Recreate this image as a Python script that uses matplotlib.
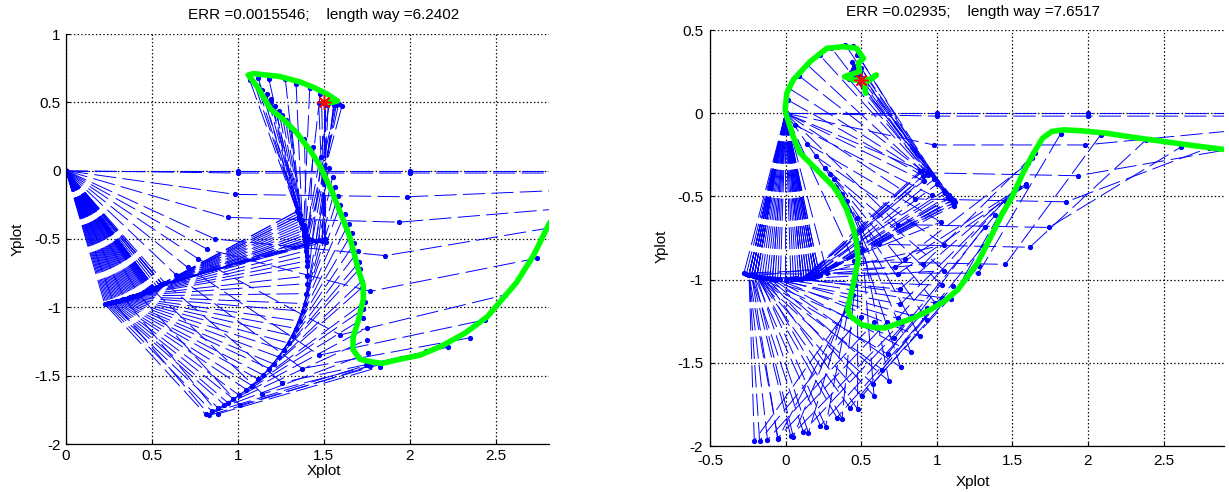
import matplotlib
matplotlib.use("Agg")
import matplotlib.pyplot as plt
from matplotlib.ticker import FuncFormatter
import numpy as np

plt.rcParams['font.family'] = ['Liberation Sans', 'DejaVu Sans']
plt.rcParams['axes.unicode_minus'] = False
plt.rcParams['lines.scale_dashes'] = False

LINK = 1.0  # every arm segment has unit length

# absolute link angles (degrees) of the 3-link arm, one entry per drawn pose
q1_left = [0, -1, -10, -20, -30, -35, -40, -45, -50, -55, -60, -65, -70, -74, -77,
           -76, -75, -74, -73, -72, -71, -70, -69, -68, -67, -66, -65, -64, -63, -62,
           -61, -60, -59, -59, -59, -60, -61, -62, -60, -58, -57, -56, -56,
           -76.5, -75.5, -74.5, -73.5, -72.5, -71.5, -70.5, -69.5, -68.5, -67.5, -66.5,
           -65.5, -64.5, -63.5, -62.5, -61.5, -60.5, -59.5, -59, -59.5, -60.5, -61.5,
           -61, -59, -57, -56, -56]
q2_left = [0, 0, -1, -2, -7, -18, -34, -40, -43, -47, -50, -54, -57, -56, -54,
           -50, -47, -43, -38, -33, -28, -22, -16, -10, -3, 5, 12, 16, 20, 24,
           27, 31, 34, 33, 32, 28, 24, 22, 21, 20, 19, 19, 19,
           -52, -48, -45, -40, -35, -30, -25, -19, -13, -6, 1,
           8, 14, 18, 22, 25, 29, 32, 34, 30, 26, 23,
           22, 20, 19, 18, 19]
q3_left = [0, 0, 3, 6, 12, 14, 17, 15, 13, 15, 18, 20, 20, 21, 21,
           30, 38, 43, 50, 56, 62, 68, 74, 78, 82, 88, 95, 97, 99, 101,
           102, 104, 106, 100, 95, 88, 82, 78, 82, 85, 88, 91, 90,
           25, 34, 41, 48, 54, 59, 65, 71, 76, 80, 85,
           91, 96, 98, 100, 101, 103, 105, 103, 92, 85, 80,
           80, 84, 89, 90, 92]

q1_right = [0, -1, -11, -21, -31, -42, -52, -63, -74, -84, -95, -102, -106, -104,
            -103, -102, -101, -101, -102, -103, -104, -104, -103, -101, -99, -97, -95,
            -93, -90, -87, -85, -84, -83, -82, -81, -80, -79, -78, -78, -77, -78, -78,
            -105, -103, -102, -101, -101, -101, -103, -104, -104, -102, -100, -98, -96,
            -94, -92, -88, -86, -84, -83, -82, -81, -80, -79, -78, -77, -78, -79]
q2_right = [0, 0, 0, -1, -1, -1, -1, -1, 0, -7, 5, 6, 2, -5,
            -15, -28, -40, -52, -64, -75, -83, -88, -80, -70, -58, -45, -32,
            -20, -8, 3, 20, 36, 40, 40, 38, 34, 30, 28, 27, 27, 26, 25,
            0, -10, -22, -34, -46, -58, -70, -79, -86, -75, -64, -52, -38,
            -26, -14, -2, 12, 30, 38, 40, 39, 36, 31, 29, 26, 27, 28]
q3_right = [0, 0, 5, 9, 19, 29, 40, 51, 57, 58, 42, 35, 30, 38,
            45, 50, 45, 47, 45, 43, 45, 52, 60, 72, 84, 95, 110,
            121, 132, 142, 152, 156, 150, 140, 130, 124, 128, 131, 127, 132, 128, 130,
            32, 42, 48, 48, 46, 46, 44, 44, 48, 66, 78, 90, 102,
            115, 127, 138, 148, 155, 153, 145, 135, 126, 125, 129, 130, 133, 129]

# end-effector path (green)
path_x_left = [2.90, 2.81, 2.72, 2.62, 2.45, 2.32, 2.19, 2.06, 1.94, 1.84, 1.78, 1.71,
               1.67, 1.67, 1.70, 1.73, 1.73, 1.70, 1.65, 1.55, 1.48, 1.42, 1.34, 1.26,
               1.19, 1.11, 1.06, 1.09, 1.24, 1.36, 1.44, 1.52, 1.58, 1.55, 1.51, 1.50]
path_y_left = [-0.22, -0.39, -0.62, -0.82, -1.07, -1.19, -1.28, -1.35, -1.38, -1.41, -1.40, -1.38,
               -1.31, -1.22, -1.10, -0.94, -0.84, -0.72, -0.48, -0.16, 0.03, 0.15, 0.28, 0.38,
               0.45, 0.62, 0.70, 0.71, 0.69, 0.65, 0.61, 0.56, 0.51, 0.50, 0.50, 0.50]

path_x_right = [3.0, 2.97, 2.92, 2.7, 2.5, 2.3, 2.12, 1.95, 1.84, 1.76, 1.70, 1.64, 1.57,
                1.50, 1.43, 1.37, 1.27, 1.14, 1.05, 0.96, 0.85, 0.754, 0.66, 0.60, 0.50,
                0.43, 0.41, 0.445, 0.48, 0.47, 0.45, 0.405, 0.36, 0.316, 0.207, 0.096,
                0.05, 0.008, -0.003, 0.008, 0.05, 0.162, 0.273, 0.38, 0.47, 0.515, 0.48,
                0.49, 0.39, 0.45, 0.56, 0.60, 0.52, 0.53]
path_y_right = [0.0, -0.12, -0.22, -0.195, -0.17, -0.145, -0.12, -0.105, -0.10, -0.11, -0.15,
                -0.24, -0.36, -0.50, -0.61, -0.72, -0.90, -1.06, -1.13, -1.18, -1.23, -1.26,
                -1.29, -1.29, -1.27, -1.22, -1.18, -1.04, -0.88, -0.78, -0.70, -0.58, -0.50,
                -0.44, -0.34, -0.24, -0.14, -0.02, 0.02, 0.12, 0.20, 0.31, 0.39, 0.40, 0.39,
                0.33, 0.30, 0.25, 0.22, 0.20, 0.20, 0.23, 0.18, 0.12]

target_left = (1.5, 0.5)
target_right = (0.5, 0.2)

title_left = "ERR =0.0015546;    length way =6.2402"
title_right = "ERR =0.02935;    length way =7.6517"

xticks_left = [0, 0.5, 1, 1.5, 2, 2.5]
yticks_left = [-2, -1.5, -1, -0.5, 0, 0.5, 1]
xticks_right = [-0.5, 0, 0.5, 1, 1.5, 2, 2.5]
yticks_right = [-2, -1.5, -1, -0.5, 0, 0.5]


def draw_panel(ax, q1, q2, q3, px, py, target, title, xlim, ylim, xticks, yticks,
               cx, title_y, xlab_y, ylab_x, ylab_y, xpad, ypad):
    # arm poses
    for a1, a2, a3 in zip(q1, q2, q3):
        ang = np.radians([a1, a2, a3])
        xs = np.concatenate([[0.0], np.cumsum(LINK * np.cos(ang))])
        ys = np.concatenate([[0.0], np.cumsum(LINK * np.sin(ang))])
        ax.plot(xs, ys, color='b', lw=0.7, ls=(0, (16, 4.5)),
                marker='.', ms=5.5, zorder=2)
    # trajectory of the end effector and the goal point
    ax.plot(px, py, color=(0, 1, 0), lw=4, solid_capstyle='round',
            solid_joinstyle='round', zorder=3)
    ax.plot(target[0], target[1], ls='none', marker=(8, 2, 0), ms=10, mew=1.1,
            color='r', zorder=4)

    ax.set_xlim(*xlim)
    ax.set_ylim(*ylim)
    ax.set_xticks(xticks)
    ax.set_yticks(yticks)
    fmt = FuncFormatter(lambda v, p: '%g' % v)
    ax.xaxis.set_major_formatter(fmt)
    ax.yaxis.set_major_formatter(fmt)
    ax.tick_params(direction='in', length=3, labelsize=11, width=0.8)
    ax.tick_params(axis='x', pad=xpad)
    ax.tick_params(axis='y', pad=ypad)
    ax.grid(True, color='k', ls=':', lw=0.9)
    ax.set_axisbelow(True)
    for s in ('top', 'right'):
        ax.spines[s].set_visible(False)
    for s in ('left', 'bottom'):
        ax.spines[s].set_linewidth(0.9)

    ax.text(cx, title_y, title, transform=ax.transAxes, ha='center', va='center',
            fontsize=11)
    ax.set_xlabel('Xplot', fontsize=11)
    ax.set_ylabel('Yplot', fontsize=11)
    ax.xaxis.set_label_coords(cx, xlab_y)
    ax.yaxis.set_label_coords(ylab_x, ylab_y)


fig = plt.figure(figsize=(12.29, 4.92), dpi=100)
ax1 = fig.add_axes([66 / 1229, 1 - 444 / 492, (549 - 66) / 1229, (444 - 34) / 492])
ax2 = fig.add_axes([710 / 1229, 1 - 446 / 492, (1224 - 710) / 1229, (446 - 30) / 492])

draw_panel(ax1, q1_left, q2_left, q3_left, path_x_left, path_y_left, target_left,
           title_left, (0, 2.81), (-2, 1), xticks_left, yticks_left,
           cx=0.534, title_y=1.046, xlab_y=-0.05, ylab_x=-0.085, ylab_y=0.5,
           xpad=3.5, ypad=4)
draw_panel(ax2, q1_right, q2_right, q3_right, path_x_right, path_y_right, target_right,
           title_right, (-0.5, 2.9), (-2, 0.5), xticks_right, yticks_right,
           cx=0.512, title_y=1.043, xlab_y=-0.07, ylab_x=-0.08, ylab_y=0.48,
           xpad=6, ypad=5)

fig.savefig('out.png', dpi=100)
